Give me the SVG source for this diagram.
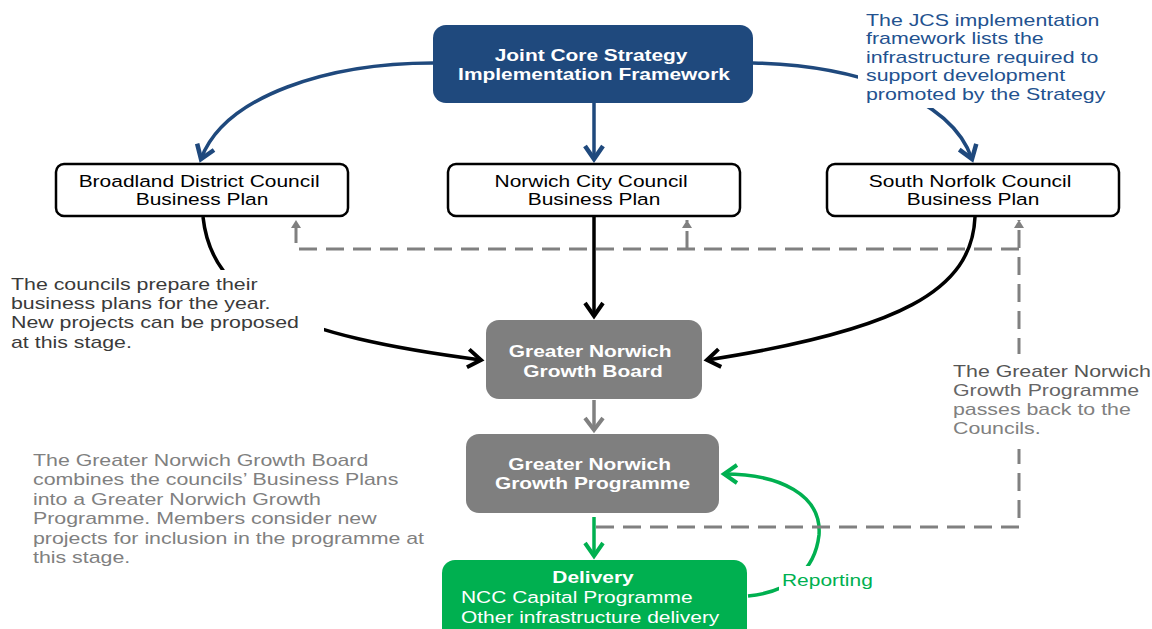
<svg xmlns="http://www.w3.org/2000/svg" width="1152" height="629" viewBox="0 0 1152 629">
<style>
text { font-family: "Liberation Sans", Arial, sans-serif; }
.reg { font-size: 16.5px; }
.ann { font-size: 16.8px; }
.bold { font-size: 17px; font-weight: bold; fill: #ffffff; }
.council { fill: #ffffff; stroke: #000000; stroke-width: 2.5; }
.blue { fill: none; stroke: #1f497d; stroke-width: 3.5; }
.black { fill: none; stroke: #000000; stroke-width: 3.5; }
.gray { fill: none; stroke: #808080; stroke-width: 3.5; }
.green { fill: none; stroke: #00b050; stroke-width: 3.5; }
.dash { fill: none; stroke: #808080; stroke-width: 3; stroke-dasharray: 18 9; }
.bg { fill: #ffffff; }
</style>
<defs>
<marker id="mBlue" markerUnits="userSpaceOnUse" markerWidth="40" markerHeight="40" viewBox="-20 -20 40 40" refX="0" refY="0" orient="auto" overflow="visible"><path d="M-13,-9 L0,0 L-13,9" fill="none" stroke="#1f497d" stroke-width="4.5"/></marker>
<marker id="mBlack" markerUnits="userSpaceOnUse" markerWidth="40" markerHeight="40" viewBox="-20 -20 40 40" refX="0" refY="0" orient="auto" overflow="visible"><path d="M-13,-9 L0,0 L-13,9" fill="none" stroke="#000000" stroke-width="4"/></marker>
<marker id="mGray" markerUnits="userSpaceOnUse" markerWidth="40" markerHeight="40" viewBox="-20 -20 40 40" refX="0" refY="0" orient="auto" overflow="visible"><path d="M-12,-9 L0,0 L-12,9" fill="none" stroke="#808080" stroke-width="4"/></marker>
<marker id="mGreen" markerUnits="userSpaceOnUse" markerWidth="40" markerHeight="40" viewBox="-20 -20 40 40" refX="0" refY="0" orient="auto" overflow="visible"><path d="M-13,-9 L0,0 L-13,9" fill="none" stroke="#00b050" stroke-width="4"/></marker>
<marker id="mTri" markerUnits="userSpaceOnUse" markerWidth="20" markerHeight="20" viewBox="-10 -10 20 20" refX="0" refY="0" orient="auto" overflow="visible"><path d="M-8,-5 L0,0 L-8,5 Z" fill="#808080"/></marker>
</defs>

<g id="connectors">
  <path class="blue" d="M433,63 C330,63 225,95 201,159" marker-end="url(#mBlue)"/>
  <path class="blue" d="M594,103 V159" marker-end="url(#mBlue)"/>
  <path class="blue" d="M753,63 C850,65 950,95 972,159" marker-end="url(#mBlue)"/>
  <path class="black" d="M203,217 C212,300 290,335 481,360" marker-end="url(#mBlack)"/>
  <path class="black" d="M594,216 V316" marker-end="url(#mBlack)"/>
  <path class="black" d="M975,217 C972,290 900,330 707,360" marker-end="url(#mBlack)"/>
  <path class="gray" d="M594,400 V430" marker-end="url(#mGray)"/>
  <path class="green" d="M594,517 V556" marker-end="url(#mGreen)"/>
  <path class="green" d="M748,596 C790,592 815,570 819,535 C822,495 780,474 724,474" marker-end="url(#mGreen)"/>
  <path class="dash" d="M596,527 H1019 V220" marker-end="url(#mTri)"/>
  <path class="dash" d="M1019,249 H296 V220" marker-end="url(#mTri)"/>
  <path class="dash" d="M687,249 V220" marker-end="url(#mTri)"/>
  <rect class="bg" x="779" y="566" width="98" height="26"/>
  <text class="reg" fill="#00b050" transform="translate(782,586) scale(1.27,1)">Reporting</text>
</g>

<g id="note-jcs">
  <rect class="bg" x="858" y="5" width="260" height="103"/>
  <text class="ann" fill="#23528f" transform="translate(866,26) scale(1.27,1)">
    <tspan x="0" y="0">The JCS implementation</tspan>
    <tspan x="0" y="18.5">framework lists the</tspan>
    <tspan x="0" y="37">infrastructure required to</tspan>
    <tspan x="0" y="55.5">support development</tspan>
    <tspan x="0" y="74">promoted by the Strategy</tspan>
  </text>
</g>

<g id="note-councils">
  <rect class="bg" x="6" y="270" width="318" height="85"/>
  <text class="ann" fill="#3a3a3a" transform="translate(11,290) scale(1.27,1)">
    <tspan x="0" y="0">The councils prepare their</tspan>
    <tspan x="0" y="19.2">business plans for the year.</tspan>
    <tspan x="0" y="38.4">New projects can be proposed</tspan>
    <tspan x="0" y="57.6">at this stage.</tspan>
  </text>
</g>

<g id="note-passes">
  <rect class="bg" x="946" y="354" width="206" height="95"/>
  <text class="ann" transform="translate(953,377) scale(1.27,1)">
    <tspan x="0" y="0" fill="#555555">The Greater Norwich</tspan>
    <tspan x="0" y="19" fill="#666666">Growth Programme</tspan>
    <tspan x="0" y="38" fill="#808080">passes back to the</tspan>
    <tspan x="0" y="57" fill="#808080">Councils.</tspan>
  </text>
</g>

<g id="note-board">
  <text class="ann" fill="#808080" transform="translate(33,466) scale(1.27,1)">
    <tspan x="0" y="0">The Greater Norwich Growth Board</tspan>
    <tspan x="0" y="19.4">combines the councils’ Business Plans</tspan>
    <tspan x="0" y="38.8">into a Greater Norwich Growth</tspan>
    <tspan x="0" y="58.2">Programme. Members consider new</tspan>
    <tspan x="0" y="77.6">projects for inclusion in the programme at</tspan>
    <tspan x="0" y="97">this stage.</tspan>
  </text>
</g>

<g id="jcs">
  <rect x="433" y="25" width="320" height="78" rx="13" fill="#1f497d"/>
  <text class="bold" text-anchor="middle" transform="translate(594,0) scale(1.23,1)">
    <tspan x="0" y="61.5">Joint Core Strategy</tspan>
    <tspan x="0" y="80">Implementation  Framework</tspan>
  </text>
</g>

<g id="broadland">
  <rect class="council" x="56" y="164" width="292" height="52" rx="8"/>
  <text class="reg" fill="#000000" text-anchor="middle" transform="translate(202,0) scale(1.27,1)">
    <tspan x="0" y="187">Broadland District Council</tspan>
    <tspan x="0" y="205.5">Business Plan</tspan>
  </text>
</g>

<g id="norwich">
  <rect class="council" x="448" y="164" width="292" height="52" rx="8"/>
  <text class="reg" fill="#000000" text-anchor="middle" transform="translate(594,0) scale(1.27,1)">
    <tspan x="0" y="187">Norwich City Council</tspan>
    <tspan x="0" y="205.5">Business Plan</tspan>
  </text>
</g>

<g id="southnorfolk">
  <rect class="council" x="827" y="164" width="292" height="52" rx="8"/>
  <text class="reg" fill="#000000" text-anchor="middle" transform="translate(973,0) scale(1.27,1)">
    <tspan x="0" y="187">South Norfolk Council</tspan>
    <tspan x="0" y="205.5">Business Plan</tspan>
  </text>
</g>

<g id="board">
  <rect x="486" y="320" width="216" height="79" rx="13" fill="#7f7f7f"/>
  <text class="bold" text-anchor="middle" transform="translate(593,0) scale(1.23,1)">
    <tspan x="0" y="357">Greater Norwich</tspan>
    <tspan x="0" y="377.5">Growth Board</tspan>
  </text>
</g>

<g id="programme">
  <rect x="466" y="434" width="253" height="79" rx="13" fill="#7f7f7f"/>
  <text class="bold" text-anchor="middle" transform="translate(592.5,0) scale(1.23,1)">
    <tspan x="0" y="470">Greater Norwich</tspan>
    <tspan x="0" y="489.5">Growth Programme</tspan>
  </text>
</g>

<g id="delivery">
  <rect x="442" y="560" width="305" height="85" rx="13" fill="#00b050"/>
  <text class="bold" text-anchor="middle" transform="translate(593,583) scale(1.23,1)">Delivery</text>
  <text class="reg" fill="#ffffff" transform="translate(461,0) scale(1.27,1)">
    <tspan x="0" y="603">NCC Capital Programme</tspan>
    <tspan x="0" y="623">Other infrastructure delivery</tspan>
  </text>
</g>
</svg>
